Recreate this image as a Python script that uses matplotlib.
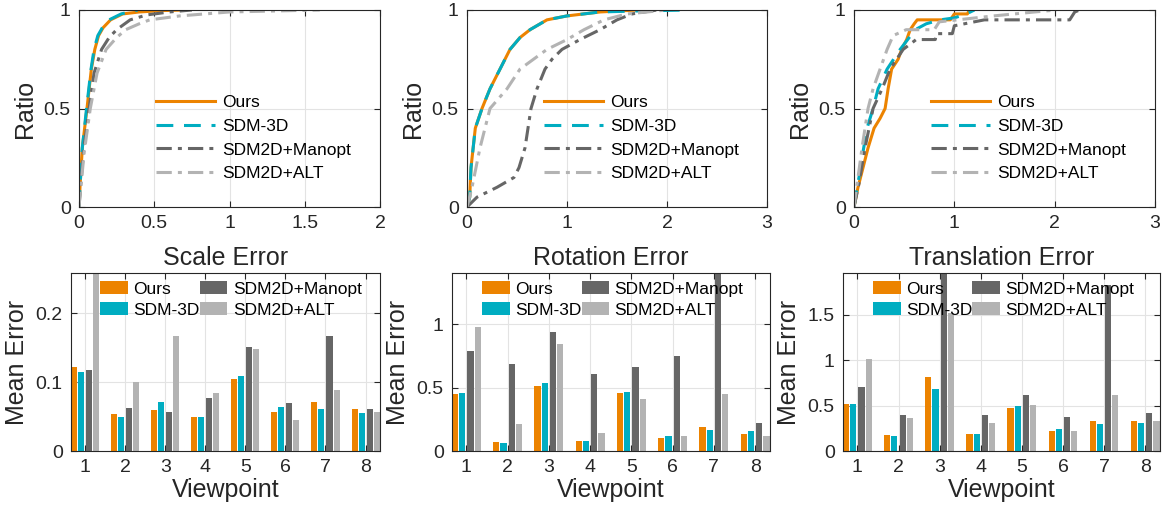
import numpy as np
import matplotlib
matplotlib.use("Agg")
import matplotlib.pyplot as plt

plt.rcParams['font.family'] = ['Liberation Sans', 'DejaVu Sans']

# ---------------------- данные: кривые (CDF) ----------------------
methods = ['Ours', 'SDM-3D', 'SDM2D+Manopt', 'SDM2D+ALT']
colors = ['#EC8300', '#00ADC1', '#666666', '#B3B3B3']

# Scale
sc_ours_x = [0, 0.008, 0.022, 0.053, 0.082, 0.105, 0.13, 0.16, 0.21, 0.29, 0.4, 0.55, 0.7]
sc_ours_y = [0, 0.12, 0.3, 0.5, 0.7, 0.8, 0.87, 0.91, 0.95, 0.98, 0.99, 0.997, 1.0]
sc_sdm_x = [0, 0.008, 0.022, 0.05, 0.08, 0.10, 0.125, 0.155, 0.2, 0.28, 0.39]
sc_sdm_y = [0, 0.12, 0.3, 0.5, 0.7, 0.8, 0.87, 0.91, 0.95, 0.98, 1.0]
sc_man_x = [0, 0.01, 0.03, 0.067, 0.1, 0.15, 0.2, 0.25, 0.34, 0.45, 0.6, 0.75]
sc_man_y = [0, 0.1, 0.28, 0.5, 0.68, 0.8, 0.86, 0.9, 0.95, 0.975, 0.99, 1.0]
sc_alt_x = [0, 0.012, 0.035, 0.075, 0.12, 0.18, 0.25, 0.31, 0.4, 0.47, 0.67, 1.0, 1.3, 1.6]
sc_alt_y = [0, 0.1, 0.28, 0.5, 0.68, 0.8, 0.86, 0.9, 0.93, 0.95, 0.97, 0.99, 0.995, 1.0]

# Rotation
ro_ours_x = [0, 0.027, 0.04, 0.083, 0.15, 0.23, 0.33, 0.43, 0.53, 0.63, 0.8, 1.0, 1.33, 1.7]
ro_ours_y = [0, 0.05, 0.2, 0.4, 0.5, 0.6, 0.7, 0.8, 0.86, 0.9, 0.95, 0.97, 0.99, 1.0]
ro_sdm_x = [0, 0.027, 0.04, 0.083, 0.15, 0.23, 0.33, 0.43, 0.53, 0.63, 0.8, 1.0, 1.33, 1.7, 2.23]
ro_sdm_y = [0, 0.05, 0.2, 0.4, 0.5, 0.6, 0.7, 0.8, 0.86, 0.9, 0.95, 0.97, 0.99, 0.995, 1.0]
ro_man_x = [0, 0.1, 0.3, 0.47, 0.52, 0.58, 0.64, 0.70, 0.78, 0.85, 0.95, 1.13, 1.33, 1.5, 1.65, 1.9]
ro_man_y = [0, 0.05, 0.1, 0.15, 0.2, 0.3, 0.5, 0.6, 0.7, 0.75, 0.8, 0.85, 0.9, 0.95, 0.98, 1.0]
ro_alt_x = [0, 0.05, 0.13, 0.18, 0.23, 0.4, 0.53, 0.8, 1.0, 1.17, 1.37, 1.6, 2.0]
ro_alt_y = [0, 0.1, 0.3, 0.4, 0.5, 0.6, 0.7, 0.8, 0.85, 0.9, 0.95, 0.98, 1.0]

# Translation
tr_ours_x = [0, 0.04, 0.09, 0.14, 0.2, 0.26, 0.31, 0.34, 0.375, 0.44, 0.475, 0.525, 0.56, 0.6, 0.63, 0.96, 1.0, 1.13, 1.15]
tr_ours_y = [0, 0.1, 0.2, 0.3, 0.4, 0.45, 0.5, 0.6, 0.7, 0.75, 0.8, 0.85, 0.9, 0.93, 0.95, 0.95, 0.98, 0.98, 1.0]
tr_sdm_x = [0, 0.04, 0.08, 0.13, 0.19, 0.24, 0.33, 0.46, 0.61, 0.72, 0.86, 1.0, 1.12, 1.2]
tr_sdm_y = [0, 0.12, 0.25, 0.4, 0.5, 0.6, 0.7, 0.8, 0.9, 0.93, 0.95, 0.96, 0.98, 1.0]
tr_man_x = [0, 0.05, 0.11, 0.19, 0.28, 0.36, 0.49, 0.62, 0.81, 0.82, 0.98, 1.0, 1.3, 2.15, 2.2, 2.25]
tr_man_y = [0, 0.12, 0.3, 0.5, 0.6, 0.7, 0.8, 0.85, 0.85, 0.88, 0.88, 0.92, 0.95, 0.95, 0.99, 1.0]
tr_alt_x = [0, 0.04, 0.08, 0.14, 0.19, 0.26, 0.33, 0.39, 0.52, 0.8, 0.85, 1.39, 1.8, 2.02]
tr_alt_y = [0, 0.15, 0.3, 0.5, 0.6, 0.7, 0.8, 0.87, 0.9, 0.9, 0.94, 0.97, 0.99, 1.0]

# ---------------------- данные: средние ошибки по ракурсам ----------------------
viewpoints = [1, 2, 3, 4, 5, 6, 7, 8]
scale_ours = [0.122, 0.054, 0.060, 0.049, 0.105, 0.057, 0.071, 0.061]
scale_sdm = [0.114, 0.049, 0.071, 0.049, 0.108, 0.064, 0.061, 0.055]
scale_man = [0.118, 0.062, 0.057, 0.077, 0.151, 0.070, 0.166, 0.061]
scale_alt = [0.270, 0.100, 0.167, 0.084, 0.148, 0.045, 0.089, 0.057]

rot_ours = [0.450, 0.071, 0.513, 0.079, 0.458, 0.103, 0.190, 0.134]
rot_sdm = [0.458, 0.063, 0.537, 0.079, 0.466, 0.118, 0.166, 0.158]
rot_man = [0.790, 0.687, 0.940, 0.608, 0.663, 0.750, 1.500, 0.221]
rot_alt = [0.976, 0.213, 0.845, 0.142, 0.410, 0.118, 0.450, 0.118]

tra_ours = [0.518, 0.176, 0.816, 0.188, 0.474, 0.220, 0.331, 0.331]
tra_sdm = [0.518, 0.165, 0.684, 0.188, 0.496, 0.243, 0.298, 0.309]
tra_man = [0.706, 0.397, 2.100, 0.397, 0.618, 0.375, 1.830, 0.419]
tra_alt = [1.015, 0.364, 1.520, 0.309, 0.507, 0.220, 0.618, 0.331]

# ---------------------- оформление ----------------------
W, H = 1166, 512
fig = plt.figure(figsize=(W / 100, H / 100), dpi=100)


def box(l, r, t, b):
    return [l / W, (H - b) / H, (r - l) / W, (b - t) / H]


styles = [dict(ls='-'), dict(ls=(0, (5.5, 3.5))),
          dict(ls=(0, (5, 2, 1.3, 2))), dict(ls=(0, (5, 2, 1.3, 2)))]


def style_axes(ax):
    ax.tick_params(direction='in', top=True, right=True, length=4,
                   labelsize=14, colors='#262626', pad=6)
    for s in ax.spines.values():
        s.set_color('#262626')
        s.set_linewidth(0.8)
    ax.grid(True, color='#E3E3E3', linewidth=0.8)
    ax.set_axisbelow(True)


curves = [
    ([sc_ours_x, sc_sdm_x, sc_man_x, sc_alt_x], [sc_ours_y, sc_sdm_y, sc_man_y, sc_alt_y], 2, 'Scale Error'),
    ([ro_ours_x, ro_sdm_x, ro_man_x, ro_alt_x], [ro_ours_y, ro_sdm_y, ro_man_y, ro_alt_y], 3, 'Rotation Error'),
    ([tr_ours_x, tr_sdm_x, tr_man_x, tr_alt_x], [tr_ours_y, tr_sdm_y, tr_man_y, tr_alt_y], 3, 'Translation Error'),
]
top_boxes = [box(79, 380, 10, 207), box(467, 767, 10, 207), box(854, 1155, 10, 207)]

for (xs, ys, xmax, name), pos in zip(curves, top_boxes):
    ax = fig.add_axes(pos)
    for x, y, c, st, lab in zip(xs, ys, colors, styles, methods):
        ax.plot(x, y, color=c, lw=2.2, label=lab, **st)
    ax.set_xlim(0, xmax)
    ax.set_ylim(0, 1)
    ax.set_xticks(np.arange(0, xmax + 0.01, 0.5 if xmax == 2 else 1))
    ax.xaxis.set_major_formatter(matplotlib.ticker.FuncFormatter(lambda v, p: '%g' % v))
    ax.set_yticks([0, 0.5, 1])
    ax.set_yticklabels(['0', '0.5', '1'])
    ax.set_ylabel('Ratio', fontsize=18, color='#262626', labelpad=5)
    style_axes(ax)
    ax.legend(loc='upper left', bbox_to_anchor=(0.255, 0.57), frameon=False,
              fontsize=12.5, handlelength=3.4, handletextpad=0.45,
              labelspacing=0.5, borderpad=0, borderaxespad=0)

bars = [
    ([scale_ours, scale_sdm, scale_man, scale_alt], 0.258, [0, 0.1, 0.2], 'Scale Error'),
    ([rot_ours, rot_sdm, rot_man, rot_alt], 1.403, [0, 0.5, 1], 'Rotation Error'),
    ([tra_ours, tra_sdm, tra_man, tra_alt], 1.96, [0, 0.5, 1, 1.5], 'Translation Error'),
]
bot_boxes = [box(71, 380, 273, 451), box(452, 770, 273, 451), box(843, 1160, 273, 451)]
offsets = [-0.275, -0.1, 0.1, 0.275]

for (series, ymax, yt, name), pos in zip(bars, bot_boxes):
    ax = fig.add_axes(pos)
    x = np.array(viewpoints)
    for vals, c, off, lab in zip(series, colors, offsets, methods):
        ax.bar(x + off, vals, width=0.15, color=c, label=lab, zorder=2)
    ax.set_xlim(0.65, 8.36)
    ax.set_ylim(0, ymax)
    ax.set_xticks(viewpoints)
    ax.set_yticks(yt)
    ax.set_yticklabels(['%g' % v for v in yt])
    ax.set_xlabel('Viewpoint', fontsize=18, color='#262626', labelpad=1)
    ax.set_ylabel('Mean Error', fontsize=18, color='#262626', labelpad=5)
    ax.set_title(name, fontsize=18, color='#262626', pad=6)
    style_axes(ax)
    ax.legend(loc='upper left', bbox_to_anchor=(0.095, 0.955), frameon=False,
              ncol=2, fontsize=12.5, handlelength=1.6, handleheight=0.8,
              handletextpad=0.3, columnspacing=0.0, labelspacing=0.3,
              borderpad=0, borderaxespad=0)

fig.savefig('out.png', dpi=100)
